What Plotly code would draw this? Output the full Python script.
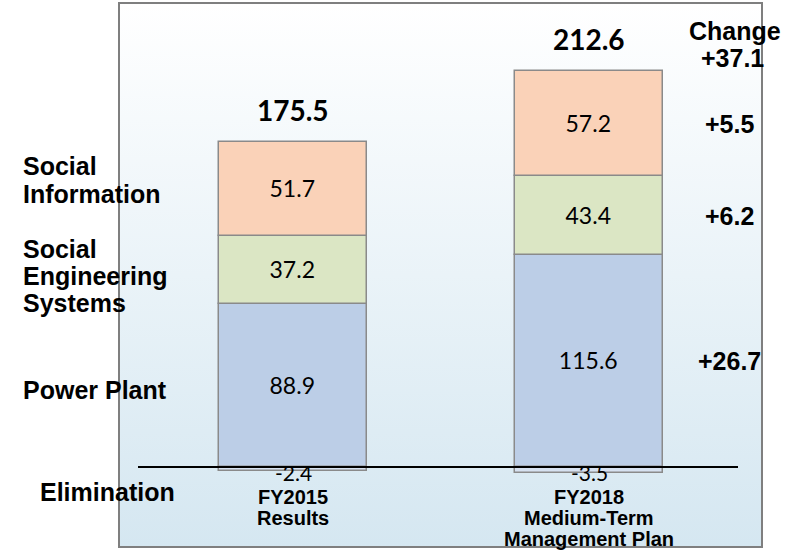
import plotly.graph_objects as go

# ---------------- data ----------------
periods = ["FY2015", "FY2018"]
period_sub = [["Results"], ["Medium-Term", "Management Plan"]]
segments = ["Power Plant", "Social Engineering Systems", "Social Information"]
power_plant = [88.9, 115.6]
social_eng = [37.2, 43.4]
social_info = [51.7, 57.2]
elimination = [-2.4, -3.5]
totals = [175.5, 212.6]

seg_values = [power_plant, social_eng, social_info]
seg_colors = ["#bccee7", "#dbe6c4", "#fad2b8"]
elim_color = "#d6e1f0"

W, H = 796, 556
L, R, T, B = 119, 762, 3, 547   # panel (plot area) in pixels


def xp(px):
    return (px - L) / (R - L)


def yp(py):
    return (B - py) / (B - T)


x_pos = [0, 1]
fig = go.Figure()

# background panel gradient (decoration on base axes)
fig.add_trace(go.Scatter(
    x=[0, 1, 1, 0, 0], y=[0, 0, 1, 1, 0], mode="lines", fill="toself",
    line=dict(width=0),
    fillgradient=dict(type="vertical", colorscale=[[0, "#d5e7f1"], [1, "#ffffff"]]),
    hoverinfo="skip", showlegend=False, xaxis="x", yaxis="y"))

# bars
fig.add_trace(go.Bar(
    x=x_pos, y=elimination, width=0.5, marker=dict(color=elim_color, line=dict(color="#8a8a8a", width=1.5)),
    showlegend=False, xaxis="x2", yaxis="y2", hoverinfo="skip"))
for vals, col, name in zip(seg_values, seg_colors, segments):
    fig.add_trace(go.Bar(
        x=x_pos, y=vals, width=0.5, name=name,
        marker=dict(color=col, line=dict(color="#8a8a8a", width=1.5)),
        text=[f"{v:.1f}" for v in vals], textposition="inside", insidetextanchor="middle",
        textangle=0, constraintext="none",
        insidetextfont=dict(family="Lato, Noto Sans, sans-serif", size=23, color="#000"),
        showlegend=False, xaxis="x2", yaxis="y2", hoverinfo="skip"))

ann = []
val_font = dict(family="Lato, Noto Sans, sans-serif", size=21, color="#000")
bold_font = dict(family="Liberation Sans, Arial, sans-serif", size=25, color="#000")

# totals above bars and elimination values just below the zero line
for i, x in enumerate(x_pos):
    top = sum(v[i] for v in seg_values)
    ann.append(dict(x=x, y=top, xref="x2", yref="y2", text=f"<b>{totals[i]:.1f}</b>",
                    showarrow=False, yanchor="middle", yshift=32,
                    font=dict(family="Lato, Noto Sans, sans-serif", size=28, color="#000")))
    ann.append(dict(x=x, y=0, xref="x2", yref="y2", text=f"{elimination[i]:.1f}",
                    showarrow=False, yanchor="middle", yshift=-5, font=val_font))

# change column
cum = 0
for vals in seg_values:
    mid = cum + vals[1] / 2
    cum += vals[1]
    d = round(vals[1] - vals[0], 1)
    ann.append(dict(x=xp(729), y=mid, xref="paper", yref="y2", text=f"<b>+{d:.1f}</b>",
                    showarrow=False, xanchor="center", yanchor="middle", font=bold_font))
dt = round(totals[1] - totals[0], 1)
ann.append(dict(x=xp(732), y=yp(58), xref="paper", yref="paper", text=f"<b>+{dt:.1f}</b>",
                showarrow=False, xanchor="center", yanchor="middle", font=bold_font))
ann.append(dict(x=xp(735), y=yp(31), xref="paper", yref="paper", text="<b>Change</b>",
                showarrow=False, xanchor="center", yanchor="middle", font=bold_font))

# left segment labels (one annotation per line for tight leading)
left_lines = [("Social", 166), ("Information", 194),
              ("Social", 249), ("Engineering", 276), ("Systems", 303),
              ("Power Plant", 390)]
for txt, py in left_lines:
    ann.append(dict(x=xp(21), y=yp(py), xref="paper", yref="paper", text=f"<b>{txt}</b>",
                    showarrow=False, xanchor="left", yanchor="middle", font=bold_font))
ann.append(dict(x=xp(38), y=yp(492), xref="paper", yref="paper", text="<b>Elimination</b>",
                showarrow=False, xanchor="left", yanchor="middle", font=bold_font))

# category labels
cat_font = dict(family="Liberation Sans, Arial, sans-serif", size=20, color="#000")
cat_rows = [[497, 518], [497, 518, 539]]
for i, x in enumerate(x_pos):
    lines = [periods[i]] + period_sub[i]
    for txt, py in zip(lines, cat_rows[i]):
        ann.append(dict(x=x, y=yp(py), xref="x2", yref="paper", text=f"<b>{txt}</b>",
                        showarrow=False, xanchor="center", yanchor="middle", font=cat_font))

shapes = [
    dict(type="line", xref="paper", yref="y2", x0=xp(138), x1=xp(738), y0=0, y1=0,
         line=dict(color="#000", width=2), layer="above"),
    dict(type="rect", xref="paper", yref="paper", x0=0, x1=1, y0=0, y1=1,
         line=dict(color="#7f7f7f", width=2), layer="above"),
]

px_per_unit = 1.83
zero_px = 467
fig.update_layout(
    width=W, height=H,
    margin=dict(l=L, r=W - R, t=T, b=H - B, pad=0),
    paper_bgcolor="white", plot_bgcolor="rgba(0,0,0,0)",
    barmode="relative", bargap=0,
    xaxis=dict(range=[0, 1], visible=False, fixedrange=True),
    yaxis=dict(range=[0, 1], visible=False, fixedrange=True),
    xaxis2=dict(overlaying="x", range=[-(293 - L) / 296, -(293 - L) / 296 + (R - L) / 296], visible=False),
    yaxis2=dict(overlaying="y", range=[-(B - zero_px) / px_per_unit, (zero_px - T) / px_per_unit], visible=False),
    annotations=ann, shapes=shapes, showlegend=False,
)

fig.write_html("out.html", config={"displayModeBar": False},
               post_script="document.body.style.margin='0';document.body.style.padding='0';")
